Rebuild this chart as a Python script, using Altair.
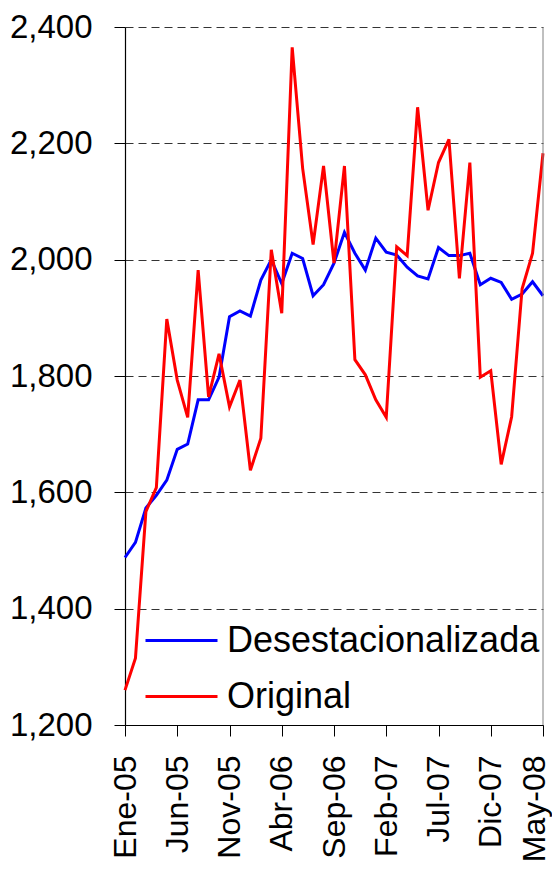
import altair as alt
import pandas as pd

tick_labels = ["Ene-05", "Jun-05", "Nov-05", "Abr-06", "Sep-06", "Feb-07", "Jul-07", "Dic-07", "May-08"]
month_index = list(range(41))
desestacionalizada = [1488, 1514, 1573, 1595, 1621, 1674, 1683, 1759, 1759, 1798,
                      1902, 1912, 1903, 1965, 2000, 1959, 2011, 2002, 1938, 1957,
                      1994, 2047, 2011, 1982, 2037, 2013, 2008, 1987, 1972, 1967,
                      2021, 2007, 2007, 2011, 1957, 1968, 1961, 1932, 1941, 1962, 1938]
original = [1260, 1315, 1567, 1608, 1898, 1793, 1729, 1982, 1764, 1838,
            1747, 1793, 1638, 1693, 2017, 1908, 2365, 2157, 2026, 2161,
            1994, 2161, 1828, 1802, 1759, 1729, 2022, 2007, 2262, 2085,
            2167, 2207, 1968, 2167, 1798, 1809, 1648, 1730, 1950, 2011, 2183]
series_names = ["Desestacionalizada", "Original"]
series_colors = ["#0000FF", "#FF0000"]

df = pd.concat([
    pd.DataFrame({"m": month_index, "v": desestacionalizada, "s": series_names[0]}),
    pd.DataFrame({"m": month_index, "v": original, "s": series_names[1]}),
])

FONT = "Liberation Sans"
label_array = "[" + ",".join("'" + t + "'" for t in tick_labels) + "]"

x_scale = alt.Scale(domain=[0, 40], nice=False, zero=False)
y_scale = alt.Scale(domain=[1200, 2400], nice=False, zero=False)

lines = alt.Chart(df).mark_line(strokeWidth=3).encode(
    x=alt.X("m:Q", scale=x_scale,
            axis=alt.Axis(values=[0, 5, 10, 15, 20, 25, 30, 35, 40],
                          labelExpr=label_array + "[round(datum.value/5)]",
                          labelAngle=-90, labelAlign="right", labelBaseline="middle",
                          labelFont=FONT, labelFontSize=32, labelColor="#000000",
                          labelPadding=19, tickSize=11, tickColor="#000000",
                          labelOffset={"condition": {"test": "datum.value >= 40", "value": -9},
                                       "value": 0},
                          domainColor="#000000", domainWidth=1.2, grid=False,
                          title=None, labelOverlap=False, labelFlush=False,
                          labelLimit=0)),
    y=alt.Y("v:Q", scale=y_scale,
            axis=alt.Axis(values=[1200, 1400, 1600, 1800, 2000, 2200, 2400],
                          format=",.0f", labelFont=FONT, labelFontSize=33,
                          labelColor="#000000", labelPadding=22, tickSize=11,
                          tickColor="#000000", domainColor="#000000", domainWidth=1.2,
                          grid=True, gridColor="#333333", gridDash=[8, 5], gridWidth=1,
                          title=None, labelFlush=False, labelLimit=0)),
    color=alt.Color("s:N", scale=alt.Scale(domain=series_names, range=series_colors),
                    legend=alt.Legend(orient="none", legendX=19, legendY=576, title=None,
                                      symbolType="stroke", symbolSize=5184,
                                      symbolStrokeWidth=3, labelFont=FONT,
                                      labelFontSize=36, labelColor="#000000",
                                      labelOffset=8, rowPadding=-15, padding=0,
                                      labelLimit=0, direction="vertical")),
)

border = alt.Chart().mark_rule(color="#808080", strokeWidth=1).encode(
    x=alt.datum(40, scale=x_scale)
)

chart = alt.layer(lines, border).properties(
    width=418, height=698,
    autosize=alt.AutoSizeParams(type="none"),
    padding={"left": 117, "top": 19, "right": 9, "bottom": 136},
).configure_view(stroke=None)

chart.save("out.html", embed_options={"renderer": "svg", "actions": False})
